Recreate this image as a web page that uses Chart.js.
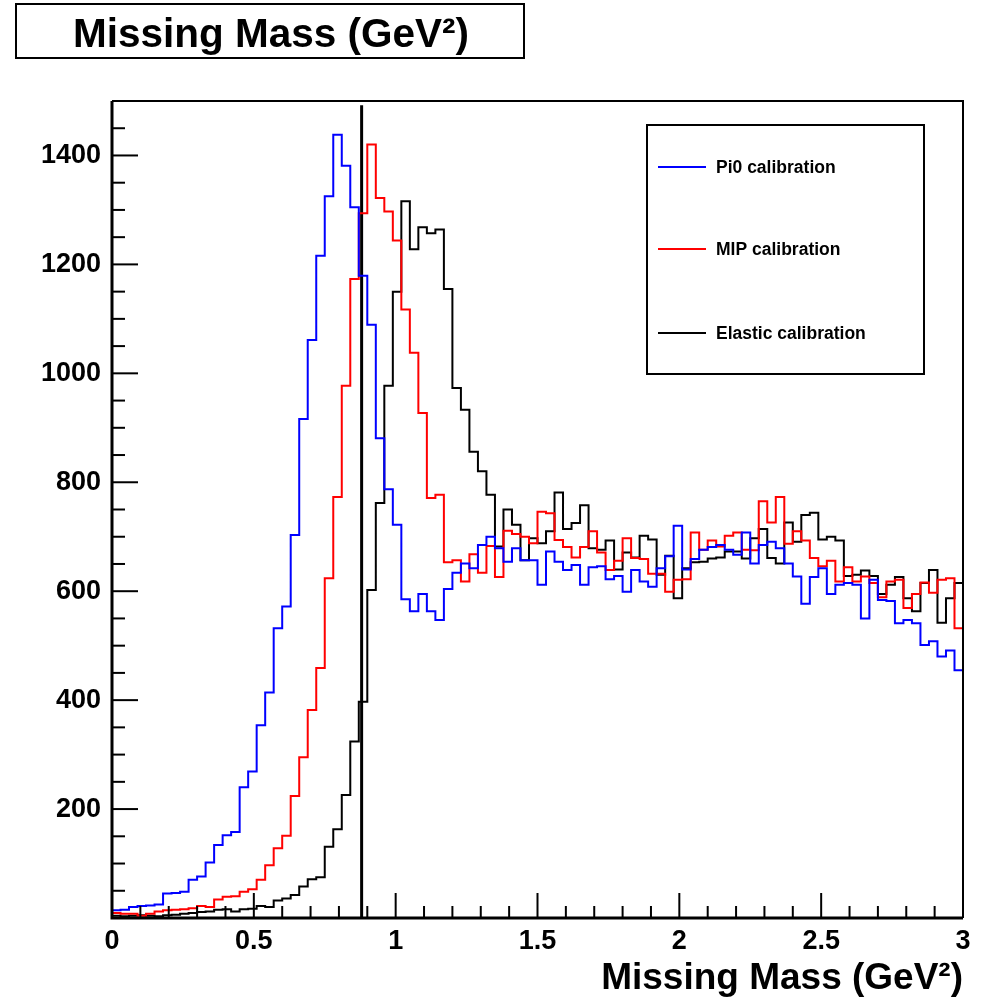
<!DOCTYPE html>
<html>
<head>
<meta charset="utf-8">
<title>Missing Mass</title>
<script src="https://cdn.jsdelivr.net/npm/chart.js@4.4.0/dist/chart.umd.min.js"></script>
<style>
    html, body { margin: 0; padding: 0; background: #fff; }
    #wrap { position: relative; width: 986px; height: 1005px; }
</style>
</head>
<body>
<div id="wrap"><canvas id="missingMassChart"></canvas></div>
<script>
// 100 bins of 0.03 GeV^2 from 0 to 3
const binWidth = 0.03;

const pi0Counts = [
    14, 15, 20, 22, 23, 25, 45, 46, 48, 70,
    76, 102, 134, 152, 158, 240, 269, 354, 414, 532,
    572, 703, 916, 1061, 1216, 1325, 1438, 1381, 1305, 1179,
    1089, 881, 787, 722, 585, 563, 595, 563, 547, 604,
    634, 651, 642, 685, 700, 679, 654, 679, 657, 657,
    612, 673, 654, 639, 648, 612, 644, 646, 622, 628,
    599, 639, 618, 608, 642, 664, 720, 640, 659, 676,
    681, 685, 676, 667, 708, 651, 685, 691, 679, 651,
    627, 577, 626, 642, 595, 612, 615, 612, 550, 621,
    584, 582, 541, 547, 541, 501, 508, 480, 491, 455
];

const mipCounts = [
    9, 8, 8, 4, 8, 12, 14, 15, 16, 18,
    22, 20, 34, 39, 40, 48, 53, 70, 97, 128,
    151, 224, 295, 382, 459, 624, 773, 977, 1173, 1294,
    1420, 1322, 1297, 1244, 1117, 1038, 927, 771, 777, 653,
    657, 618, 668, 634, 683, 626, 711, 705, 700, 688,
    746, 743, 694, 681, 662, 681, 710, 671, 639, 656,
    697, 661, 659, 632, 632, 599, 621, 622, 708, 676,
    693, 682, 702, 708, 676, 675, 765, 726, 773, 687,
    710, 693, 661, 646, 656, 618, 644, 618, 627, 615,
    589, 618, 621, 569, 595, 616, 597, 621, 624, 532
];

const elasticCounts = [
    4, 3, 4, 5, 4, 3, 5, 6, 8, 9,
    11, 12, 15, 16, 12, 16, 17, 22, 20, 32,
    36, 42, 58, 71, 75, 131, 163, 226, 324, 397,
    602, 762, 977, 1150, 1316, 1228, 1268, 1257, 1264, 1155,
    973, 933, 856, 820, 777, 682, 750, 722, 657, 697,
    688, 710, 781, 714, 725, 758, 679, 676, 693, 640,
    671, 662, 702, 695, 630, 665, 587, 642, 653, 654,
    660, 662, 673, 673, 660, 697, 714, 661, 651, 726,
    691, 740, 744, 695, 700, 693, 628, 630, 638, 628,
    595, 612, 626, 587, 563, 615, 639, 542, 587, 615
];

const seriesLabels = ['Pi0 calibration', 'MIP calibration', 'Elastic calibration'];
const xTickLabels = ['0', '0.5', '1', '1.5', '2', '2.5', '3'];
const yTickLabels = ['200', '400', '600', '800', '1000', '1200', '1400'];
const titleText = 'Missing Mass (GeV\u00B2)';

// proton mass squared, marked with a vertical line
const protonMassSq = 0.88;
const markerTop = 1492;

const colors = {
    pi0: '#0000ff',
    mip: '#ff0000',
    elastic: '#000000'
};
const fontFamily = '"Liberation Sans", Arial, Helvetica, sans-serif';

// each bin starts at its left edge; the last point closes the final bin
function toSteps(counts) {
    const pts = counts.map((c, i) => ({ x: +(i * binWidth).toFixed(2), y: c }));
    pts.push({ x: +(counts.length * binWidth).toFixed(2), y: counts[counts.length - 1] });
    return pts;
}

function histDataset(label, color, counts) {
    return {
        label: label,
        data: toSteps(counts),
        borderColor: color,
        borderWidth: 2,
        stepped: true,
        pointRadius: 0,
        fill: false,
        inLegend: true
    };
}

function labelFor(value, labels) {
    const txt = String(Math.round(value * 10) / 10);
    return labels.includes(txt) ? txt : '';
}

// ROOT style frame: inward ticks, framed title and legend
const rootFrame = {
    id: 'rootFrame',
    afterDraw(chart) {
        const { ctx, chartArea: a, scales } = chart;
        ctx.save();
        ctx.strokeStyle = '#000';
        ctx.lineCap = 'butt';

        // ticks along the y axis
        ctx.lineWidth = 2;
        scales.y.ticks.forEach(t => {
            const y = scales.y.getPixelForValue(t.value);
            const len = t.label ? 26 : 13;
            ctx.beginPath();
            ctx.moveTo(a.left, y);
            ctx.lineTo(a.left + len, y);
            ctx.stroke();
        });
        // ticks along the x axis
        scales.x.ticks.forEach(t => {
            const x = scales.x.getPixelForValue(t.value);
            const len = t.label ? 25 : 12;
            ctx.beginPath();
            ctx.moveTo(x, a.bottom);
            ctx.lineTo(x, a.bottom - len);
            ctx.stroke();
        });

        // frame
        ctx.lineWidth = 2;
        ctx.beginPath();
        ctx.moveTo(a.left, a.top);
        ctx.lineTo(a.right, a.top);
        ctx.lineTo(a.right, a.bottom);
        ctx.stroke();
        ctx.lineWidth = 3;
        ctx.beginPath();
        ctx.moveTo(a.left, a.top);
        ctx.lineTo(a.left, a.bottom);
        ctx.lineTo(a.right, a.bottom);
        ctx.stroke();

        // title box
        ctx.lineWidth = 2;
        ctx.strokeRect(16, 4, 508, 54);
        ctx.fillStyle = '#000';
        ctx.font = 'bold 40.5px ' + fontFamily;
        ctx.textAlign = 'center';
        ctx.textBaseline = 'alphabetic';
        ctx.fillText(titleText, 271, 47);

        // legend box
        const lx = 647, ly = 125, lw = 277, lh = 249;
        ctx.lineWidth = 2;
        ctx.strokeRect(lx, ly, lw, lh);
        const entries = chart.data.datasets.filter(d => d.inLegend);
        const rowY = [167, 249, 333];
        ctx.font = 'bold 17.5px ' + fontFamily;
        ctx.textAlign = 'left';
        ctx.textBaseline = 'middle';
        entries.forEach((d, i) => {
            ctx.strokeStyle = d.borderColor;
            ctx.lineWidth = 2;
            ctx.beginPath();
            ctx.moveTo(658, rowY[i]);
            ctx.lineTo(706, rowY[i]);
            ctx.stroke();
            ctx.fillText(d.label, 716, rowY[i] + 1);
        });
        ctx.restore();
    }
};

const ctx = document.getElementById('missingMassChart').getContext('2d');
new Chart(ctx, {
    type: 'line',
    data: {
        datasets: [
            histDataset(seriesLabels[0], colors.pi0, pi0Counts),
            histDataset(seriesLabels[1], colors.mip, mipCounts),
            histDataset(seriesLabels[2], colors.elastic, elasticCounts),
            {
                label: 'proton',
                data: [{ x: protonMassSq, y: 0 }, { x: protonMassSq, y: markerTop }],
                borderColor: '#000',
                borderWidth: 3,
                pointRadius: 0,
                fill: false,
                inLegend: false
            }
        ]
    },
    options: {
        responsive: true,
        maintainAspectRatio: false,
        animation: false,
        layout: {
            padding: { left: 0, right: 23, top: 101, bottom: 0 }
        },
        plugins: {
            legend: { display: false },
            title: { display: false },
            tooltip: { enabled: false }
        },
        scales: {
            x: {
                type: 'linear',
                min: 0,
                max: 3,
                grid: { display: false, drawTicks: false },
                border: { display: false },
                ticks: {
                    stepSize: 0.1,
                    autoSkip: false,
                    maxRotation: 0,
                    padding: 7,
                    color: '#000',
                    font: { family: fontFamily, size: 27, weight: 'bold' },
                    callback: v => labelFor(v, xTickLabels)
                },
                title: {
                    display: true,
                    text: titleText,
                    align: 'end',
                    color: '#000',
                    font: { family: fontFamily, size: 37, weight: 'bold' },
                    padding: { top: 0, bottom: 4 }
                },
                afterFit: s => { s.height = 87; }
            },
            y: {
                type: 'linear',
                min: 0,
                max: 1500,
                grid: { display: false, drawTicks: false },
                border: { display: false },
                ticks: {
                    stepSize: 50,
                    autoSkip: false,
                    padding: 11,
                    color: '#000',
                    font: { family: fontFamily, size: 27, weight: 'bold' },
                    callback: v => labelFor(v, yTickLabels)
                },
                afterFit: s => { s.width = 112; }
            }
        }
    },
    plugins: [rootFrame]
});
</script>
</body>
</html>
